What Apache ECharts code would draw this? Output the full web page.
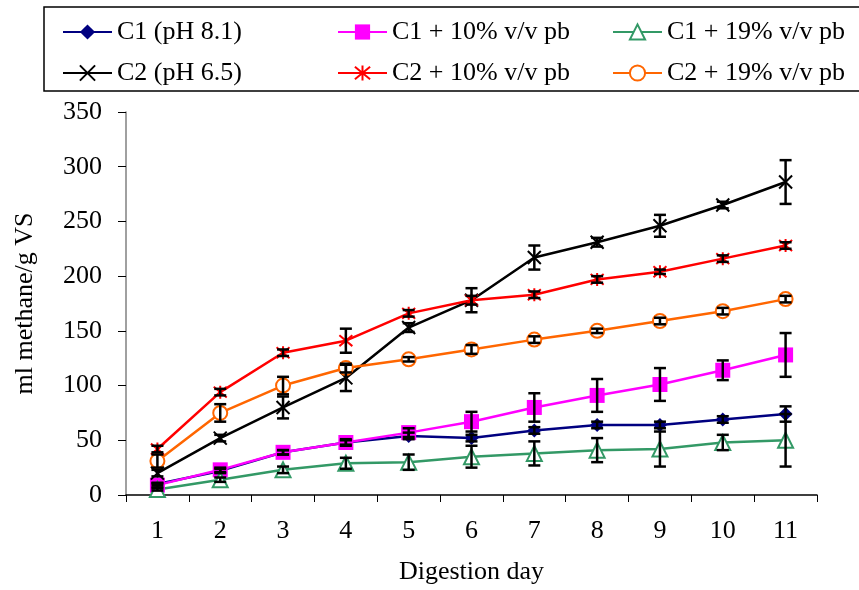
<!DOCTYPE html>
<html>
<head>
<meta charset="utf-8">
<script src="https://cdn.jsdelivr.net/npm/echarts@6/dist/echarts.min.js"></script>
<style>
  html, body { margin: 0; padding: 0; background: #fff; }
  #chart { width: 859px; height: 590px; }
</style>
</head>
<body>
<div id="chart"></div>
<script>
// digestion days
var days = ['1', '2', '3', '4', '5', '6', '7', '8', '9', '10', '11']

// ml methane / g VS
var c1 = [10, 22, 39, 48, 54, 52, 59, 64, 64, 69, 74]
var c1Err = [1, 2, 2, 2, 3, 3, 3, 3, 3, 3, 7]
var c1pb10 = [9, 23, 39, 48, 57, 67, 80, 91, 101, 114, 128]
var c1pb10Err = [2, 2, 2, 3, 4, 9, 13, 15, 15, 9, 20]
var c1pb19 = [5, 14, 23, 29, 30, 35, 38, 41, 42, 48, 50]
var c1pb19Err = [1, 2, 3, 5, 7, 10, 11, 11, 16, 7, 24]
var c2 = [20, 52, 80, 107, 153, 178, 217, 231, 246, 265, 286]
var c2Err = [3, 3, 10, 12, 4, 11, 11, 4, 10, 3, 20]
var c2pb10 = [42, 94, 130, 141, 166, 178, 183, 197, 204, 216, 228]
var c2pb10Err = [3, 3, 3, 11, 3, 4, 3, 3, 2, 3, 3]
var c2pb19 = [31, 75, 100, 116, 124, 133, 142, 150, 159, 168, 179]
var c2pb19Err = [6, 8, 8, 4, 2, 4, 3, 2, 3, 3, 3]

var yTicks = { min: 0, max: 350, step: 50 }

var FONT = 'Liberation Serif'
var chart = echarts.init(document.getElementById('chart'))

var crossPath = 'path://M0,0L10,10M10,0L0,10'
var starPath = 'path://M0,0L10,10M10,0L0,10M5,-1L5,11'

function lineSeries(name, data, color, symbol, size, hollow) {
  return {
    name: name,
    type: 'line',
    data: data,
    symbol: symbol,
    symbolSize: size,
    showAllSymbol: true,
    lineStyle: { color: color, width: 2.5 },
    itemStyle: {
      color: hollow ? '#fff' : color,
      borderColor: color,
      borderWidth: hollow || symbol.indexOf('path') === 0 ? 2 : 0
    },
    emphasis: { disabled: true },
    z: 3
  }
}

function errorBars(means, errs) {
  return {
    type: 'custom',
    silent: true,
    z: 5,
    encode: { x: 0, y: [1, 2] },
    data: means.map(function(m, i) {
      return [i, m - errs[i], m + errs[i]]
    }),
    renderItem: function(params, api) {
      var lo = api.coord([api.value(0), api.value(1)])
      var hi = api.coord([api.value(0), api.value(2)])
      var hw = 6
      var st = { stroke: '#000', lineWidth: 2.5 }
      return {
        type: 'group',
        children: [
          { type: 'line', shape: { x1: lo[0], y1: lo[1], x2: hi[0], y2: hi[1] }, style: st },
          { type: 'line', shape: { x1: hi[0] - hw, y1: hi[1], x2: hi[0] + hw, y2: hi[1] }, style: st },
          { type: 'line', shape: { x1: lo[0] - hw, y1: lo[1], x2: lo[0] + hw, y2: lo[1] }, style: st }
        ]
      }
    }
  }
}

function legendAt(name, left, top) {
  return {
    data: [name],
    left: left,
    top: top,
    padding: 0,
    itemWidth: 49,
    itemHeight: 19,
    selectedMode: false,
    textStyle: { fontFamily: FONT, fontSize: 26, color: '#000', lineHeight: 26 }
  }
}

chart.setOption({
  backgroundColor: '#fff',
  animation: false,
  graphic: [
    {
      type: 'rect',
      shape: { x: 44, y: 7, width: 840, height: 84 },
      style: { fill: 'none', stroke: '#000', lineWidth: 1.5 },
      z: 1
    }
  ],
  legend: [
    legendAt('C1 (pH 8.1)', 62, 19),
    legendAt('C2 (pH 6.5)', 62, 60),
    legendAt('C1 + 10% v/v pb', 337, 19),
    legendAt('C2 + 10% v/v pb', 337, 60),
    legendAt('C1 + 19% v/v pb', 612, 19),
    legendAt('C2 + 19% v/v pb', 612, 60)
  ],
  grid: { left: 126, right: 42, top: 112, bottom: 94 },
  xAxis: {
    type: 'category',
    data: days,
    boundaryGap: true,
    name: 'Digestion day',
    nameLocation: 'middle',
    nameGap: 64,
    nameTextStyle: { fontFamily: FONT, fontSize: 26, color: '#000' },
    axisLine: { lineStyle: { color: '#000', width: 1.5 } },
    axisTick: { show: true, inside: false, length: 7, alignWithLabel: false, lineStyle: { color: '#000' } },
    axisLabel: { fontFamily: FONT, fontSize: 26, color: '#000', margin: 23, interval: 0 },
    splitLine: { show: false }
  },
  yAxis: {
    type: 'value',
    min: yTicks.min,
    max: yTicks.max,
    interval: yTicks.step,
    name: 'ml methane/g VS',
    nameLocation: 'middle',
    nameRotate: 90,
    nameGap: 88,
    nameTextStyle: { fontFamily: FONT, fontSize: 26, color: '#000' },
    axisLine: { show: true, lineStyle: { color: '#808080', width: 1.5 } },
    axisTick: { show: true, inside: false, length: 8, lineStyle: { color: '#000' } },
    axisLabel: { fontFamily: FONT, fontSize: 26, color: '#000', margin: 24 },
    splitLine: { show: false }
  },
  series: [
    lineSeries('C1 (pH 8.1)', c1, '#000080', 'diamond', 14, false),
    lineSeries('C1 + 10% v/v pb', c1pb10, '#FF00FF', 'rect', 15, false),
    lineSeries('C1 + 19% v/v pb', c1pb19, '#339966', 'triangle', 15, true),
    lineSeries('C2 (pH 6.5)', c2, '#000000', crossPath, 13, false),
    lineSeries('C2 + 10% v/v pb', c2pb10, '#FF0000', starPath, 13, false),
    lineSeries('C2 + 19% v/v pb', c2pb19, '#FF6600', 'circle', 14, true),
    errorBars(c1, c1Err),
    errorBars(c1pb10, c1pb10Err),
    errorBars(c1pb19, c1pb19Err),
    errorBars(c2, c2Err),
    errorBars(c2pb10, c2pb10Err),
    errorBars(c2pb19, c2pb19Err)
  ]
})
</script>
</body>
</html>
